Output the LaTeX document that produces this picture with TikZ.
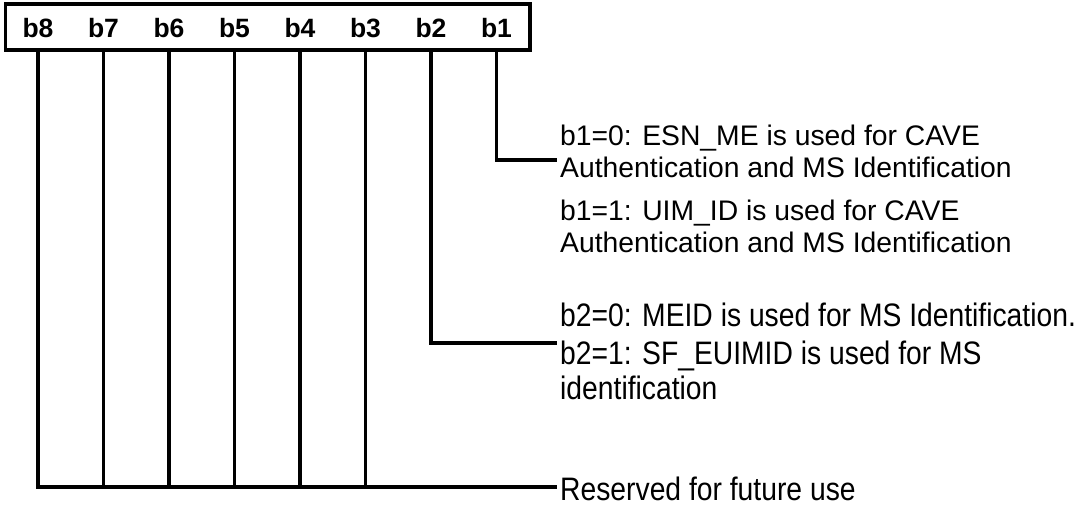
\documentclass[tikz,border=0pt]{standalone}
\usepackage{fontspec}
\setmainfont{Liberation Sans}
\newfontfamily\tallsans[FakeStretch=0.87]{Liberation Sans}

\begin{document}
\begin{tikzpicture}[
  x=1pt, y=-1pt,
  wire/.style={line width=3.3pt},
  bitlbl/.style={font=\fontsize{26.5}{30}\selectfont\bfseries, inner sep=0pt},
  desc/.style={anchor=base west, align=left, inner sep=0pt,
    font=\fontsize{28.3}{32}\selectfont},
  tdesc/.style={desc, font=\tallsans\fontsize{32.5}{34.5}\selectfont}
]
\useasboundingbox (0,0) rectangle (1082,506);

% ---------- REGISTER ----------
\node[draw, wire, minimum width=524.7pt, minimum height=46pt, inner sep=0pt] (reg) at (267.6,27) {};
\node[bitlbl] (b8) at (38,28.5) {b8};
\node[bitlbl] (b7) at (103.5,28.5) {b7};
\node[bitlbl] (b6) at (169,28.5) {b6};
\node[bitlbl] (b5) at (234.5,28.5) {b5};
\node[bitlbl] (b4) at (300,28.5) {b4};
\node[bitlbl] (b3) at (365.5,28.5) {b3};
\node[bitlbl] (b2) at (431,28.5) {b2};
\node[bitlbl] (b1) at (496.5,28.5) {b1};

% ---------- MEANINGS ----------
% (base anchor of a two-line node sits on its last line)
\node[desc] (b1zero) at (560,177) {b1=0: ESN\_ME is used for CAVE\\Authentication and MS Identification};
\node[desc] (b1one) at (560,252) {b1=1: UIM\_ID is used for CAVE\\Authentication and MS Identification};
\node[tdesc] (b2zero) at (560,326.6) {b2=0: MEID is used for MS Identification.};
\node[tdesc] (b2one) at (560,399.1) {b2=1: SF\_EUIMID is used for MS\\identification};
\node[tdesc] (rsv) at (560,500) {Reserved for future use};

\coordinate (e1) at (557,160);
\coordinate (e2) at (557,343);
\coordinate (e3) at (557,487);

% ---------- LEADS ----------
\draw[wire] (b1 |- reg.south) |- (e1);
\draw[wire] (b2 |- reg.south) |- (e2);
\draw[wire] (b8 |- reg.south) |- (e3);
\draw[wire] (b7 |- reg.south) -- (b7 |- e3);
\draw[wire] (b6 |- reg.south) -- (b6 |- e3);
\draw[wire] (b5 |- reg.south) -- (b5 |- e3);
\draw[wire] (b4 |- reg.south) -- (b4 |- e3);
\draw[wire] (b3 |- reg.south) -- (b3 |- e3);

\end{tikzpicture}
\end{document}
